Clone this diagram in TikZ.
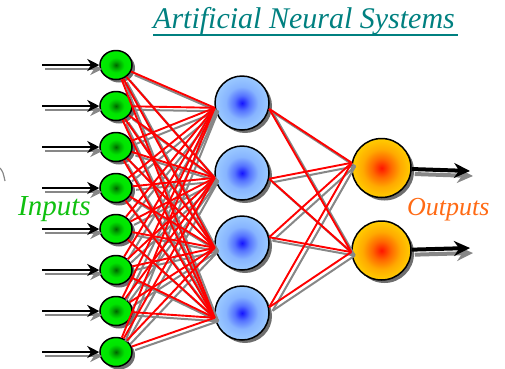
\documentclass[tikz,border=0pt]{standalone}
\usepackage{fontspec}
\setmainfont{Liberation Serif}
\newfontfamily\labelfont{LiberationSerif}[Extension=.ttf, UprightFont=*-Regular, ItalicFont=*-Italic]
\usetikzlibrary{shapes.geometric,shadows,arrows.meta}

% palette
\definecolor{titleteal}{RGB}{0,128,128}
\definecolor{inputgreen}{RGB}{16,192,16}
\definecolor{outputorange}{RGB}{255,106,20}
\definecolor{linkred}{RGB}{255,0,0}
\definecolor{linkgray}{RGB}{135,135,135}
\definecolor{shadowgray}{RGB}{110,110,110}
% ball colours
\definecolor{gA}{RGB}{0,100,0}
\definecolor{gB}{RGB}{0,170,0}
\definecolor{gC}{RGB}{0,228,0}
\definecolor{gD}{RGB}{0,238,0}
\definecolor{bA}{RGB}{20,20,255}
\definecolor{bB}{RGB}{85,115,255}
\definecolor{bC}{RGB}{135,180,255}
\definecolor{bD}{RGB}{155,202,255}
\definecolor{oA}{RGB}{255,20,0}
\definecolor{oB}{RGB}{255,105,0}
\definecolor{oC}{RGB}{255,170,0}
\definecolor{oD}{RGB}{255,205,0}

\pgfdeclareradialshading{greenball}{\pgfpointorigin}{color(0bp)=(gA); color(6bp)=(gB); color(13bp)=(gC); color(25bp)=(gD); color(50bp)=(gD)}
\pgfdeclareradialshading{blueball}{\pgfpointorigin}{color(0bp)=(bA); color(7bp)=(bB); color(15bp)=(bC); color(25bp)=(bD); color(50bp)=(bD)}
\pgfdeclareradialshading{orangeball}{\pgfpointorigin}{color(0bp)=(oA); color(8bp)=(oB); color(16bp)=(oC); color(25bp)=(oD); color(50bp)=(oD)}

\begin{document}
\begin{tikzpicture}[x=1pt,y=-1pt,
  neuron/.style={draw=black, line width=1.5pt, inner sep=0pt,
    drop shadow={shadow xshift=3pt, shadow yshift=-3pt, fill=shadowgray, opacity=1}},
  innode/.style={neuron, ellipse, minimum width=32pt, minimum height=29pt, shading=greenball},
  hidnode/.style={neuron, circle, minimum size=54pt, shading=blueball},
  outnode/.style={neuron, circle, minimum size=59pt, shading=orangeball},
  link/.style={linkred, line width=1.9pt},
  linkshade/.style={linkgray, line width=2pt, transform canvas={xshift=3.5pt,yshift=-3.5pt}},
  inarrow/.style={black, line width=2pt, -{Stealth[length=12pt,width=12pt]}},
  inarrowshade/.style={linkgray, line width=2pt, -{Stealth[length=12pt,width=12pt]},
    transform canvas={xshift=3pt,yshift=-4pt}},
  outarrow/.style={black, line width=4pt, -{Stealth[length=16pt,width=15pt]}},
  outarrowshade/.style={linkgray, line width=4pt, -{Stealth[length=16pt,width=15pt]},
    transform canvas={xshift=3pt,yshift=-5pt}},
  label/.style={inner sep=0pt, anchor=base west}
]
\useasboundingbox (0,0) rectangle (505,368);

% input layer
\foreach \y [count=\i] in {65,106,...,352} {
  \node[innode] (in\i) at (116,\y) {};
  \coordinate (ia\i) at (42,\y);
}
% hidden layer
\foreach \y [count=\j] in {103,173,243,313} {
  \node[hidnode] (h\j) at (242,\y) {};
}
% output layer
\node[outnode] (o1) at (381.5,168) {};
\node[outnode] (o2) at (381.5,250.5) {};
\coordinate (oa1) at (470,171);
\coordinate (oa2) at (470,248);

% input -> hidden connections
\foreach \i in {1,...,8} \foreach \j in {1,...,4}
  \draw[linkshade] (in\i) -- (h\j.190);
\foreach \i in {1,...,8} \foreach \j in {1,...,4}
  \draw[link] (in\i) -- (h\j.190);

% hidden -> output connections
\foreach \j/\a in {1/348,2/348,3/12,4/12} \foreach \k/\b in {1/170,2/183}
  \draw[linkshade] (h\j.\a) -- (o\k.\b);
\foreach \j/\a in {1/348,2/348,3/12,4/12} \foreach \k/\b in {1/170,2/183}
  \draw[link] (h\j.\a) -- (o\k.\b);

% incoming signals
\foreach \i in {1,...,8} {
  \draw[inarrowshade] (ia\i) -- (in\i);
  \draw[inarrow] (ia\i) -- (in\i);
}
% outgoing signals
\foreach \k in {1,2} {
  \draw[outarrowshade] (o\k) -- (oa\k);
  \draw[outarrow] (o\k) -- (oa\k);
}

% stray stroke at the left border
\draw[linkgray, line width=1.2pt] (0,168) .. controls (3,172) .. (5,181);

% labels
\node[label, text=titleteal, font=\labelfont\itshape\fontsize{30}{36}\selectfont] (title) at (153,28) {Artificial Neural Systems};
\draw[titleteal, line width=2.6pt] ([yshift=-7pt]title.base west) -- ([yshift=-7pt,xshift=3pt]title.base east);
\node[label, text=inputgreen, font=\labelfont\itshape\fontsize{29}{34}\selectfont] (inlabel) at (18,215) {Inputs};
\node[label, text=outputorange, font=\labelfont\itshape\fontsize{26}{31}\selectfont] (outlabel) at (407,215) {Outputs};
\end{tikzpicture}
\end{document}
